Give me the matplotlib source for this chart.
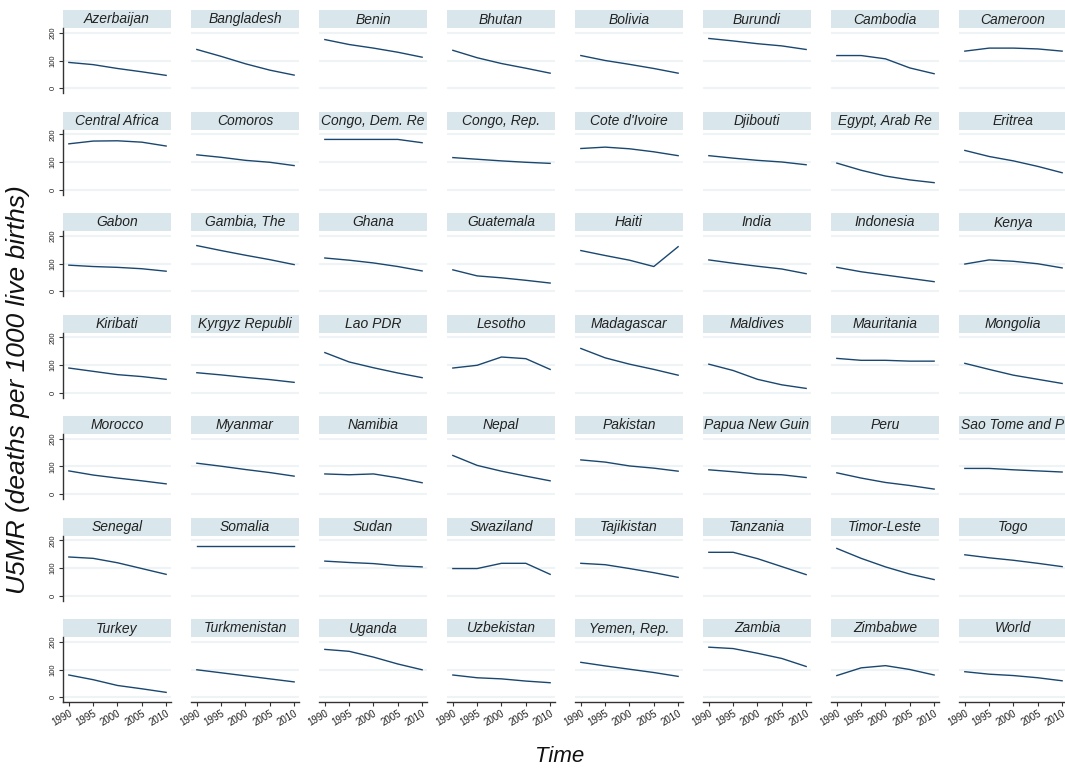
import matplotlib
matplotlib.use("Agg")
import matplotlib.pyplot as plt
from matplotlib.patches import Rectangle

plt.rcParams['font.family'] = ['Liberation Sans', 'DejaVu Sans']

years = [1990, 1995, 2000, 2005, 2010]

countries = [
    "Azerbaijan", "Bangladesh", "Benin", "Bhutan", "Bolivia", "Burundi", "Cambodia", "Cameroon",
    "Central Africa", "Comoros", "Congo, Dem. Re", "Congo, Rep.", "Cote d'Ivoire", "Djibouti", "Egypt, Arab Re", "Eritrea",
    "Gabon", "Gambia, The", "Ghana", "Guatemala", "Haiti", "India", "Indonesia", "Kenya",
    "Kiribati", "Kyrgyz Republi", "Lao PDR", "Lesotho", "Madagascar", "Maldives", "Mauritania", "Mongolia",
    "Morocco", "Myanmar", "Namibia", "Nepal", "Pakistan", "Papua New Guin", "Peru", "Sao Tome and P",
    "Senegal", "Somalia", "Sudan", "Swaziland", "Tajikistan", "Tanzania", "Timor-Leste", "Togo",
    "Turkey", "Turkmenistan", "Uganda", "Uzbekistan", "Yemen, Rep.", "Zambia", "Zimbabwe", "World",
]

u5mr = [
    [93, 85, 71, 59, 46], [140, 115, 88, 65, 47], [176, 158, 145, 130, 112], [137, 110, 89, 72, 54],
    [118, 100, 86, 71, 54], [180, 171, 161, 153, 140], [118, 118, 106, 73, 52], [134, 145, 145, 142, 134],
    [166, 176, 177, 172, 158], [126, 117, 106, 99, 87], [182, 182, 182, 182, 170], [116, 110, 104, 99, 95],
    [149, 154, 148, 137, 123], [123, 114, 106, 100, 90], [96, 70, 49, 35, 25], [142, 120, 104, 84, 61],
    [94, 89, 86, 81, 72], [165, 147, 130, 114, 96], [120, 112, 102, 89, 73], [77, 55, 48, 39, 29],
    [147, 129, 112, 89, 161], [113, 101, 90, 80, 63], [86, 70, 58, 46, 34], [98, 113, 108, 99, 84],
    [89, 77, 65, 58, 48], [72, 64, 55, 47, 37], [145, 111, 90, 71, 54], [89, 99, 129, 123, 84],
    [160, 126, 103, 84, 63], [103, 80, 48, 28, 15], [124, 117, 117, 114, 114], [106, 84, 63, 48, 33],
    [84, 69, 58, 48, 37], [112, 101, 89, 78, 65], [73, 70, 73, 59, 41], [140, 104, 83, 65, 48],
    [124, 116, 102, 94, 83], [88, 81, 73, 70, 60], [77, 58, 42, 31, 18], [93, 93, 88, 84, 80],
    [140, 135, 119, 98, 77], [180, 180, 180, 180, 180], [125, 120, 116, 108, 104], [98, 98, 117, 117, 77],
    [117, 112, 98, 83, 66], [157, 157, 134, 105, 76], [171, 135, 104, 78, 58], [148, 137, 128, 117, 105],
    [80, 63, 42, 30, 17], [99, 88, 77, 66, 55], [173, 166, 145, 120, 99], [80, 70, 66, 58, 52],
    [126, 113, 101, 89, 75], [181, 176, 159, 140, 111], [78, 106, 114, 100, 80], [92, 83, 78, 70, 59],
]

xticks = [1990, 1995, 2000, 2005, 2010]
yticks = [0, 100, 200]

W, H = 1065, 769
fig = plt.figure(figsize=(W / 100, H / 100), dpi=100)

line_color = '#1a476f'
strip_color = '#d9e6eb'
grid_color = '#eef4f5'
axis_color = '#333333'

for i, (name, vals) in enumerate(zip(countries, u5mr)):
    r, c = divmod(i, 8)
    left = (63 + 128 * c) / W
    bottom = 1 - (93 + 101.5 * r) / H
    ax = fig.add_axes([left, bottom, 108 / W, 65 / H])
    for g in yticks:
        ax.axhline(g, color=grid_color, lw=1.5, zorder=0)
    ax.plot(years, vals, color=line_color, lw=1.0, zorder=3)
    ax.set_xlim(1988.8, 2011.0)
    ax.set_ylim(-18, 218)
    for s in ax.spines.values():
        s.set_visible(False)
    ax.add_patch(Rectangle((0, 1.0), 1, 18 / 65, transform=ax.transAxes,
                           clip_on=False, facecolor=strip_color, edgecolor='none'))
    ax.text(0.5, 1 + 4.5 / 65, name, transform=ax.transAxes, ha='center', va='baseline',
            fontsize=10, style='italic', color='#222222', clip_on=False)
    if c == 0:
        ax.spines['left'].set_visible(True)
        ax.spines['left'].set_color(axis_color)
        ax.spines['left'].set_linewidth(1.0)
        ax.set_yticks(yticks)
        ax.set_yticklabels([str(t) for t in yticks])
        ax.tick_params(axis='y', length=3, width=0.8, color=axis_color, labelsize=5.5,
                       labelrotation=90, pad=1.5, labelcolor='#222222')
        for lab in ax.get_yticklabels():
            lab.set_va('center')
    else:
        ax.set_yticks([])
    if r == 6:
        ax.spines['bottom'].set_visible(True)
        ax.spines['bottom'].set_color(axis_color)
        ax.spines['bottom'].set_linewidth(1.0)
        ax.set_xticks(xticks)
        ax.set_xticklabels([str(t) for t in xticks], rotation=30, ha='right',
                           rotation_mode='anchor')
        ax.tick_params(axis='x', length=3, width=0.8, color=axis_color, labelsize=7,
                       pad=1.5, labelcolor='#222222')
    else:
        ax.set_xticks([])

fig.text(18 / W, 1 - 390 / H, "U5MR (deaths per 1000 live births)", rotation=90,
         ha='center', va='center', fontsize=19, style='italic', color='#111111')
fig.text(560 / W, 1 - 757 / H, "Time", ha='center', va='center', fontsize=16,
         style='italic', color='#111111')

fig.savefig("out.png", dpi=100, facecolor='white')
